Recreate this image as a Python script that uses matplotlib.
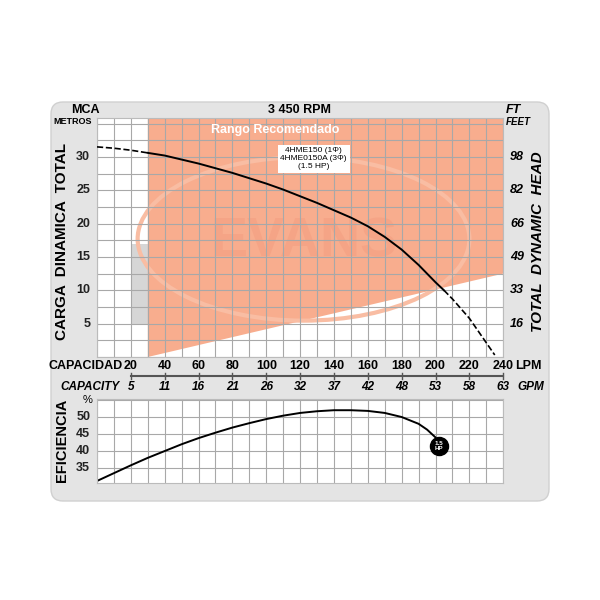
import matplotlib
matplotlib.use("Agg")
import matplotlib.pyplot as plt
import numpy as np
from matplotlib.patches import FancyBboxPatch, Ellipse, Polygon
from matplotlib.transforms import blended_transform_factory

plt.rcParams['font.family'] = ['Liberation Sans', 'DejaVu Sans']

flow = [0, 10, 20, 30, 40, 50, 60, 70, 80, 90, 100, 110, 120, 130, 140, 150, 160, 170, 180, 190, 200, 205, 210, 220, 235]
head = [31.5, 31.3, 31.0, 30.6, 30.2, 29.6, 29.0, 28.3, 27.6, 26.8, 26.0, 25.1, 24.1, 23.1, 22.0, 20.9, 19.6, 18.0, 16.1, 13.8, 11.2, 10.0, 8.7, 5.8, 0.3]
eff_flow = [0, 10, 20, 30, 40, 50, 60, 70, 80, 90, 100, 110, 120, 130, 140, 150, 160, 170, 180, 190, 195, 200]
eff = [31.2, 33.5, 35.8, 38.0, 40.0, 42.0, 43.8, 45.4, 46.9, 48.2, 49.4, 50.4, 51.2, 51.7, 52.0, 52.0, 51.8, 51.2, 50.0, 48.0, 46.3, 44.0]
lpm_ticks = [20, 40, 60, 80, 100, 120, 140, 160, 180, 200, 220, 240]
gpm_labels = ['5', '11', '16', '21', '26', '32', '37', '42', '48', '53', '58', '63']
mca_ticks = [5, 10, 15, 20, 25, 30]
ft_labels = ['16', '33', '49', '66', '82', '98']
eff_ticks = [35, 40, 45, 50]

fig = plt.figure(figsize=(6, 6), dpi=100)
fig.patch.set_facecolor('white')
bg = FancyBboxPatch((0.085, 0.165), 0.83, 0.665, boxstyle="round,pad=0,rounding_size=0.02",
                    transform=fig.transFigure, facecolor='#e4e4e4', edgecolor='#d0d0d0', zorder=-10)
fig.patches.append(bg)

ax = fig.add_axes([0.1617, 0.405, 0.677, 0.398])
ax.set_xlim(0, 240); ax.set_ylim(0, 35.8)
ax.set_xticks(np.arange(0, 241, 10)); ax.set_yticks(np.arange(0, 36, 2.5))
ax.grid(True, color='#a8a8a8', lw=0.8, zorder=1)
ax.tick_params(length=0, labelbottom=False, labelleft=False)
for s in ax.spines.values(): s.set_color('#bbbbbb')
ax.add_patch(Polygon([[20, 5], [30, 5], [30, 17], [20, 17]], closed=True, facecolor='#d6d6d6', zorder=0.2, lw=0))
ax.add_patch(Polygon([[30, 0], [240, 12.5], [240, 35.8], [30, 35.8]], closed=True,
                     facecolor='#f8ad8e', zorder=0.3, lw=0))
ax.add_patch(Ellipse((122, 17.7), 196, 24.5, fill=False, edgecolor='#f9bda3', lw=3, zorder=0.4))
ax.text(122, 17.2, 'EVANS', fontsize=40, fontweight='bold', color='#f5a486', ha='center', va='center', zorder=0.4)
ax.text(105, 34, 'Rango Recomendado', color='white', fontsize=9, fontweight='bold', ha='center', va='center', zorder=3)
ax.text(128, 29.7, '4HME150 (1Φ)\n4HME0150A (3Φ)\n(1.5 HP)', fontsize=6, ha='center', va='center', zorder=4,
        bbox=dict(facecolor='white', edgecolor='none', pad=2), linespacing=1.2)
f = np.array(flow); h = np.array(head)
ax.plot(f[:4], h[:4], 'k--', lw=1.2, zorder=5)
ax.plot(f[3:22], h[3:22], 'k-', lw=1.4, zorder=5)
ax.plot(f[21:], h[21:], 'k--', lw=1.2, zorder=5)
for t in mca_ticks:
    ax.text(-4, t, str(t), ha='right', va='center', fontsize=9, fontweight='bold', color='#222222')
for t, l in zip(mca_ticks, ft_labels):
    ax.text(244, t, l, ha='left', va='center', fontsize=9, style='italic', fontweight='bold')

ax2 = fig.add_axes([0.1617, 0.195, 0.677, 0.14])
ax2.set_xlim(0, 240); ax2.set_ylim(30.6, 55.3)
ax2.set_xticks(np.arange(0, 241, 10)); ax2.set_yticks([35, 40, 45, 50, 55])
ax2.grid(True, color='#a8a8a8', lw=0.8)
ax2.tick_params(length=0, labelbottom=False, labelleft=False)
for s in ax2.spines.values(): s.set_color('#bbbbbb')
ax2.plot(eff_flow, eff, 'k-', lw=1.4)
ax2.plot([202], [41.5], 'o', color='black', ms=13, clip_on=False)
ax2.text(202, 41.5, '1.5\nHP', color='white', fontsize=4.5, fontweight='bold', ha='center', va='center', linespacing=0.9)
for t in eff_ticks:
    ax2.text(-4, t, str(t), ha='right', va='center', fontsize=9, fontweight='bold', color='#222222')

tr = blended_transform_factory(ax.transData, fig.transFigure)
for t, g in zip(lpm_ticks, gpm_labels):
    fig.text(t, 1 - 366/600, str(t), transform=tr, ha='center', va='center', fontsize=9, fontweight='bold')
    fig.text(t, 1 - 387/600, g, transform=tr, ha='center', va='center', fontsize=8.5, fontweight='bold', style='italic')
    fig.add_artist(plt.Line2D([t, t], [1 - 373/600, 1 - 379/600], transform=tr, color='#555555', lw=1))
fig.add_artist(plt.Line2D([20, 240], [1 - 376/600] * 2, transform=tr, color='#555555', lw=1.5))
fig.text(123/600, 1 - 366/600, 'CAPACIDAD', ha='right', va='center', fontsize=9, fontweight='bold')
fig.text(120/600, 1 - 387/600, 'CAPACITY', ha='right', va='center', fontsize=8.5, fontweight='bold', style='italic')
fig.text(515/600, 1 - 366/600, 'LPM', ha='left', va='center', fontsize=9, fontweight='bold')
fig.text(517/600, 1 - 387/600, 'GPM', ha='left', va='center', fontsize=8.5, fontweight='bold', style='italic')

fig.text(85/600, 1 - 110/600, 'MCA', ha='center', va='center', fontsize=9, fontweight='bold')
fig.text(73/600, 1 - 122/600, 'METROS', ha='center', va='center', fontsize=6.5, fontweight='bold')
fig.text(300/600, 1 - 110/600, '3 450 RPM', ha='center', va='center', fontsize=9, fontweight='bold')
fig.text(513/600, 1 - 110/600, 'FT', ha='center', va='center', fontsize=9, fontweight='bold', style='italic')
fig.text(518/600, 1 - 122/600, 'FEET', ha='center', va='center', fontsize=7, fontweight='bold', style='italic')
fig.text(62/600, 1 - 242/600, 'CARGA  DINAMICA  TOTAL', rotation=90, ha='center', va='center', fontsize=11, fontweight='bold')
fig.text(538/600, 1 - 242/600, 'TOTAL  DYNAMIC  HEAD', rotation=90, ha='center', va='center', fontsize=11, fontweight='bold', style='italic')
fig.text(62/600, 1 - 440/600, 'EFICIENCIA', rotation=90, ha='center', va='center', fontsize=10.5, fontweight='bold')
fig.text(88/600, 1 - 400/600, '%', ha='center', va='center', fontsize=8)

fig.savefig('out.png', dpi=100, facecolor='white')
